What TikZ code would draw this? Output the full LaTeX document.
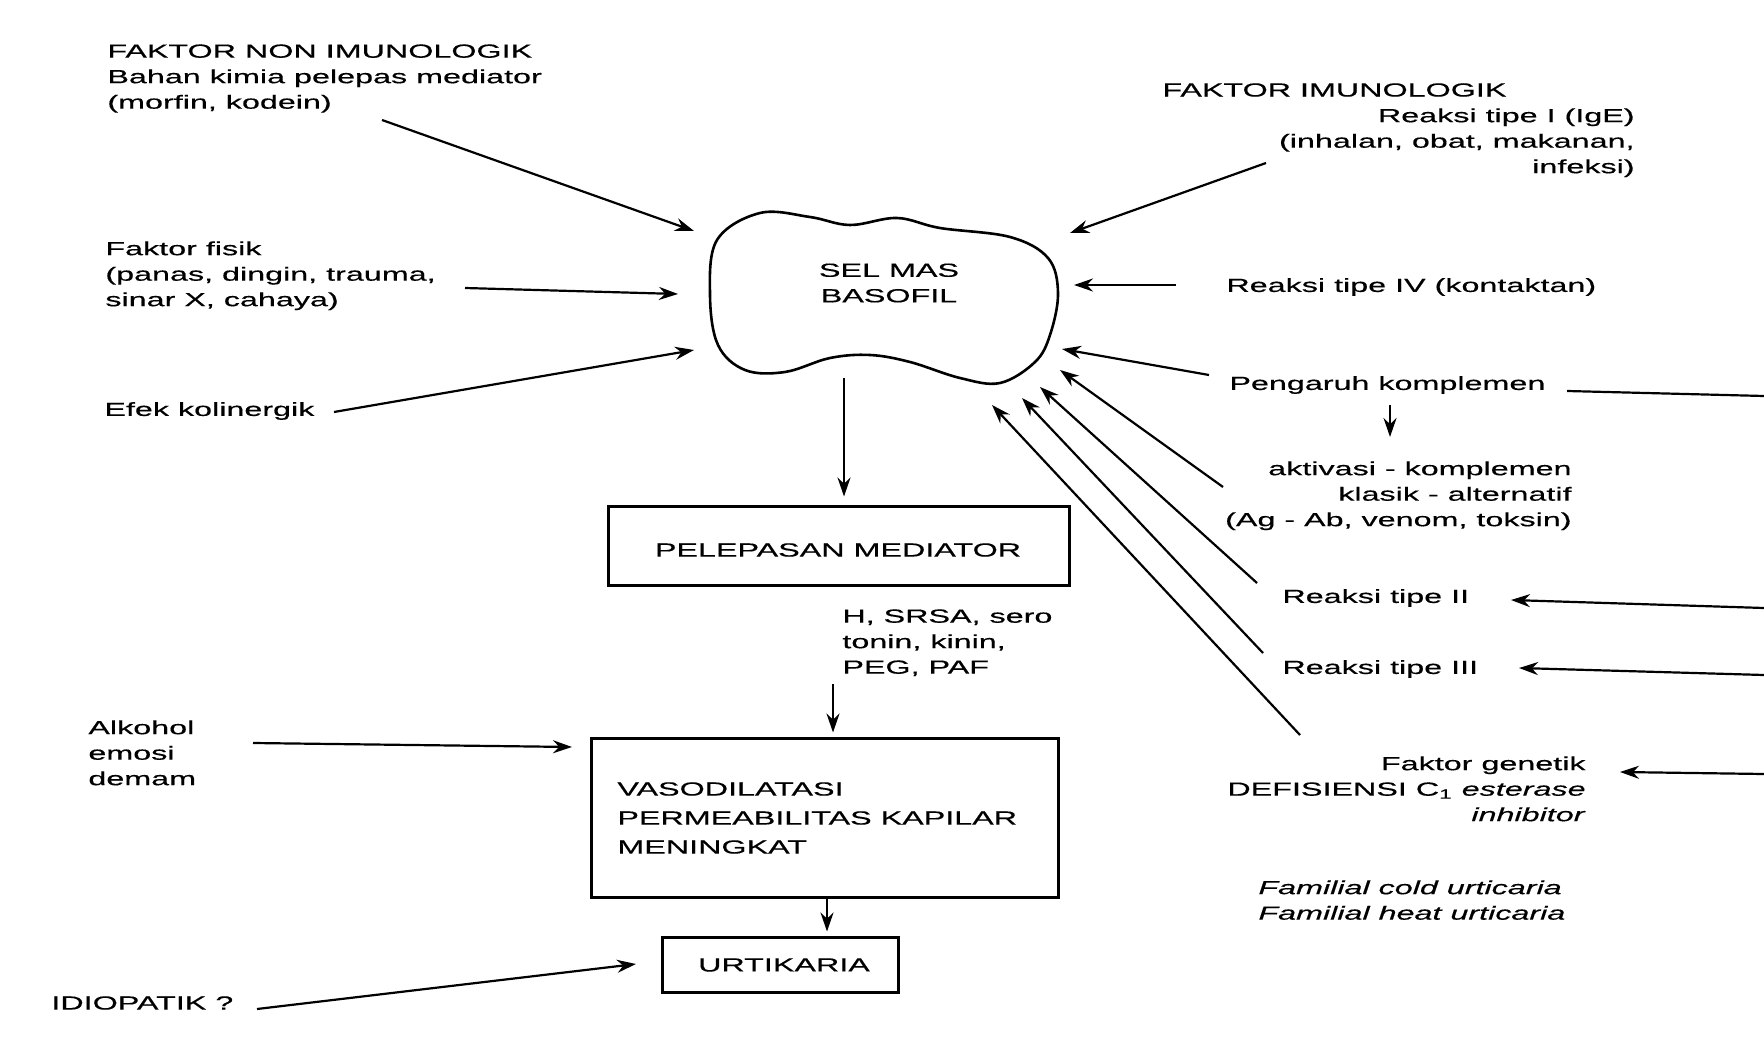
\documentclass[tikz,border=0pt]{standalone}
\usepackage{fontspec}
\newfontfamily\dg[FakeStretch=1.7,FakeBold=0.4]{Liberation Sans}
\usetikzlibrary{arrows.meta}
\newcommand\df{\dg\fontsize{9.5pt}{12.75pt}\selectfont}
\newcommand\dfw{\dg\fontsize{9.5pt}{14.5pt}\selectfont}
\begin{document}
\begin{tikzpicture}[x=0.5pt,y=-0.5pt,
  lbl/.style={inner sep=0pt, font=\df},
  arr/.style={-{Stealth[length=9.5pt,width=6.5pt]}, line width=1.1pt},
  ln/.style={line width=1.1pt},
  bx/.style={draw, line width=1.5pt, inner sep=0pt},
]
\useasboundingbox[fill=white] (0,0) rectangle (1764,1042);

% cell blob
\draw[line width=1.3pt] plot[smooth cycle, tension=0.6] coordinates {
 (717,240) (760,213) (810,217) (850,225) (897,218) (940,228) (1010,237)
 (1048,258) (1058,293) (1050,335) (1035,362) (1000,383) (960,378)
 (910,362) (870,355) (830,358) (785,372) (745,370) (718,345) (710,295)};
\node[lbl, align=center] (cell) at (889,283) {SEL MAS\\BASOFIL};

% left texts
\node[lbl, anchor=north west, align=left] (nonimun) at (107,44)
  {FAKTOR NON IMUNOLOGIK\\Bahan kimia pelepas mediator\\(morfin, kodein)};
\node[lbl, anchor=north west, align=left] (fisik) at (105,241)
  {Faktor fisik\\(panas, dingin, trauma,\\sinar X, cahaya)};
\node[lbl, anchor=west] (efek) at (104,411) {Efek kolinergik};
\node[lbl, anchor=north west, align=left] (alk) at (88,720)
  {Alkohol\\emosi\\demam};
\node[lbl, anchor=west] (idio) at (51,1003) {IDIOPATIK ?};

% right texts
\node[lbl, anchor=west] (imun) at (1162,90) {FAKTOR IMUNOLOGIK};
\node[lbl, anchor=north east, align=right] (tipe1) at (1635,108)
  {Reaksi tipe I (IgE)\\(inhalan, obat, makanan,\\infeksi)};
\node[lbl, anchor=west] (tipe4) at (1226,287) {Reaksi tipe IV (kontaktan)};
\node[lbl, anchor=west] (peng) at (1229,385) {Pengaruh komplemen};
\node[lbl, anchor=north east, align=right] (aktiv) at (1572,461)
  {aktivasi - komplemen\\klasik - alternatif\\(Ag - Ab, venom, toksin)};
\node[lbl, anchor=west] (tipe2) at (1282,598) {Reaksi tipe II};
\node[lbl, anchor=west] (tipe3) at (1282,669) {Reaksi tipe III};
\node[lbl, anchor=north east, align=right] (gen) at (1586,756)
  {Faktor genetik\\DEFISIENSI C\textsubscript{1} \textit{esterase}\\\textit{inhibitor}};
\node[lbl, anchor=north west, align=left, font=\df\itshape] (fam) at (1258,880)
  {Familial cold urticaria\\Familial heat urticaria};

% center column
\node[bx, minimum width=230.5pt, minimum height=39.5pt] (pel) at (838.5,545.5) {};
\node[lbl] (peltxt) at (838,550) {PELEPASAN MEDIATOR};
\node[lbl, anchor=north west, align=left] (med) at (842,609)
  {H, SRSA, sero\\tonin, kinin,\\PEG, PAF};
\node[bx, minimum width=233.5pt, minimum height=79.5pt] (vaso) at (824.5,817.5) {};
\node[lbl, anchor=west, align=left, font=\dfw] (vasotxt) at (617,818)
  {VASODILATASI\\PERMEABILITAS KAPILAR\\MENINGKAT};
\node[bx, minimum width=118pt, minimum height=27.5pt] (urt) at (780,964.5) {};
\node[lbl] (urttxt) at (784,965) {URTIKARIA};

% coordinates for arrow ends
\coordinate (s1) at (382,120);  \coordinate (e1) at (694,231);
\coordinate (s2) at (465,288);  \coordinate (e2) at (678,294);
\coordinate (s3) at (334,412);  \coordinate (e3) at (694,350);
\coordinate (s4) at (1266,163); \coordinate (e4) at (1070,233);
\coordinate (s5) at (1176,285); \coordinate (e5) at (1074,285);
\coordinate (s6) at (1209,375); \coordinate (e6) at (1062,349);
\coordinate (sa) at (1223,487); \coordinate (ea) at (1060,370);
\coordinate (sb) at (1257,583); \coordinate (eb) at (1040,387);
\coordinate (sc) at (1263,653); \coordinate (ec) at (1022,398);
\coordinate (sd) at (1300,735); \coordinate (ed) at (992,405);
\coordinate (cb) at (844,378);
\coordinate (m1) at (833,684);
\coordinate (v1) at (827,899);
\coordinate (as) at (253,743);  \coordinate (ae) at (572,747);
\coordinate (is) at (257,1009); \coordinate (ie) at (636,964);
\coordinate (pr1) at (1567,391); \coordinate (pr2) at (1764,396);
\coordinate (pk1) at (1390,405); \coordinate (pk2) at (1390,437);
\coordinate (r2s) at (1764,608); \coordinate (r2e) at (1511,600);
\coordinate (r3s) at (1764,675); \coordinate (r3e) at (1519,668);
\coordinate (gs) at (1764,774);  \coordinate (ge) at (1620,772);

% arrows into cell
\draw[arr] (s1) -- (e1);
\draw[arr] (s2) -- (e2);
\draw[arr] (s3) -- (e3);
\draw[arr] (s4) -- (e4);
\draw[arr] (s5) -- (e5);
\draw[arr] (s6) -- (e6);
\draw[arr] (sa) -- (ea);
\draw[arr] (sb) -- (eb);
\draw[arr] (sc) -- (ec);
\draw[arr] (sd) -- (ed);

% center flow
\draw[arr, shorten >=4pt] (cb) -- (cb |- pel.north);
\draw[arr, shorten >=2pt] (m1) -- (m1 |- vaso.north);
\draw[arr, shorten >=2pt] (v1) -- (v1 |- urt.north);
\draw[arr] (as) -- (ae);
\draw[arr] (is) -- (ie);

% right side
\draw[ln] (pr1) -- (pr2);
\draw[arr, line width=0.9pt] (pk1) -- (pk2);
\draw[arr] (r2s) -- (r2e);
\draw[arr] (r3s) -- (r3e);
\draw[arr] (gs) -- (ge);
\end{tikzpicture}
\end{document}
